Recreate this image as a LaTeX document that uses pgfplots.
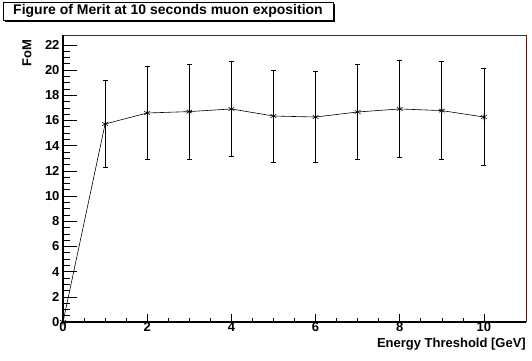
\documentclass[border=0pt]{standalone}
\usepackage{pgfplots}
\usepackage{pgfplotstable}
\pgfplotsset{compat=1.18}
\usepackage{fontspec}
\setmainfont{Liberation Sans}
\definecolor{framered}{rgb}{0.55,0,0}

% Figure of merit vs. energy threshold, with symmetric errors
\pgfplotstableread{
x   y      err
0   0.00   0.00
1   15.72  3.42
2   16.59  3.69
3   16.70  3.78
4   16.91  3.80
5   16.35  3.66
6   16.27  3.61
7   16.67  3.74
8   16.91  3.87
9   16.78  3.90
10  16.27  3.84
}\fomdata

\begin{document}
\begin{tikzpicture}[font=\fontsize{13}{15}\selectfont\bfseries]
\useasboundingbox (0,0) rectangle (532pt,360pt);
\pgfplotsset{
  rootframe/.style={
    scale only axis, width=463pt, height=287pt,
    at={(63pt,38pt)}, anchor=south west,
    xmin=0, xmax=11, ymin=0, ymax=22.78,
    tick align=inside, clip=false,
    axis line style={draw=none},
    /pgf/number format/assume math mode=true,
    tick style={black, line width=0.6pt},
  }
}
% data and the y axis ticks
\begin{axis}[rootframe,
  xtick=\empty,
  ytick={0,2,...,22}, minor y tick num=3, ytick pos=left,
  major tick length=14pt, minor tick length=7pt,
]
\addplot[black, line width=0.6pt, mark=asterisk, mark size=3.3pt,
  error bars/.cd, y dir=both, y explicit,
  error bar style={line width=0.8pt, black},
  error mark options={rotate=90, mark size=2.5pt, line width=0.8pt}]
  table[x=x, y=y, y error=err] \fomdata;
\end{axis}
% x axis ticks and the frame
\begin{axis}[rootframe,
  ytick=\empty,
  xtick={0,2,...,10}, minor x tick num=3, xtick pos=bottom,
  major tick length=8.5pt, minor tick length=4.3pt,
  xticklabel style={yshift=3pt},
]
\draw[black!80, line width=0.7pt] (rel axis cs:0,1) -- (rel axis cs:1,1);
\draw[framered, line width=1pt] (rel axis cs:1,0) -- (rel axis cs:1,1);
\draw[black, line width=1.4pt] (rel axis cs:0,1) -- (rel axis cs:0,0) -- (rel axis cs:1,0);
\end{axis}
% title box with its shadow
\fill[black] (5pt,338pt) rectangle (335pt,356pt);
\draw[black, fill=white, line width=0.7pt] (3pt,340pt) rectangle (333pt,358pt);
\node[font=\fontsize{14}{16}\selectfont\bfseries] at (168pt,349pt) {Figure of Merit at 10 seconds muon exposition};
% axis titles
\node[rotate=90, anchor=east] at (27pt,324pt) {FoM};
\node[anchor=east, inner xsep=0pt] at (526pt,16pt) {Energy Threshold [GeV]};
\end{tikzpicture}
\end{document}
